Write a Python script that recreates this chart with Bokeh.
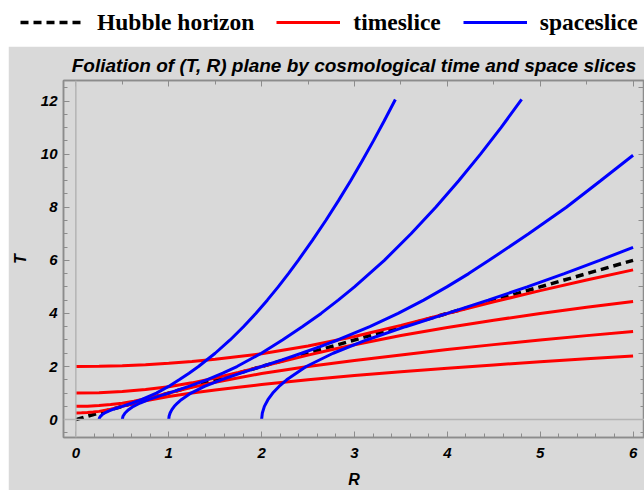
from bokeh.plotting import figure
from bokeh.models import (Range1d, LinearAxis, FixedTicker, Span, Legend, LegendItem,
                          Title, CustomJSTickFormatter)
from bokeh.embed import file_html
from bokeh.resources import INLINE

# ---------------- data ----------------
hubble_R = [0.0, 6.0]
hubble_T = [0.0, 6.0]

# time slices (red), labelled by T at R=0
ts025_R = [0.0, 0.0625, 0.125, 0.1875, 0.25, 0.375, 0.5, 0.625, 0.75, 1.0, 1.25, 1.5, 1.75, 2.0,
           2.5, 3.0, 3.5, 4.0, 4.5, 5.0, 5.5, 6.0]
ts025_T = [0.25, 0.254, 0.265, 0.284, 0.31, 0.391, 0.5, 0.6075, 0.705, 0.8675, 0.999, 1.112, 1.219, 1.3205,
           1.5, 1.661, 1.8045, 1.9375, 2.061, 2.1785, 2.289, 2.3945]

ts05_R = [0.0, 0.125, 0.25, 0.375, 0.5, 0.625, 0.75, 0.875, 1.0, 1.25, 1.5, 2.0, 2.5, 3.0,
          3.5, 4.0, 4.5, 5.0, 5.5, 6.0]
ts05_T = [0.5, 0.5075, 0.53, 0.5675, 0.62, 0.6925, 0.7825, 0.8875, 1.0, 1.215, 1.41, 1.735, 1.9975, 2.2245,
          2.4375, 2.641, 2.825, 3.0, 3.164, 3.3215]

ts1_R = [0.0, 0.25, 0.5, 0.75, 1.0, 1.25, 1.5, 1.75, 2.0, 2.25, 2.5, 2.75, 3.0, 3.5, 4.0, 4.5, 5.0, 5.5, 6.0]
ts1_T = [1.0, 1.015, 1.06, 1.135, 1.24, 1.385, 1.565, 1.775, 2.0, 2.22, 2.43, 2.63, 2.82, 3.165, 3.47,
         3.745, 3.995, 4.23, 4.449]

ts2_R = [0.0, 0.25, 0.5, 0.75, 1.0, 1.25, 1.5, 2.0, 2.5, 3.0, 3.5, 4.0, 4.5, 5.0, 5.5, 6.0]
ts2_T = [2.0, 2.008, 2.03, 2.068, 2.12, 2.188, 2.27, 2.48, 2.77, 3.13, 3.55, 4.0, 4.44, 4.86, 5.26, 5.64]

# space slices (blue), labelled by R at T=0
ss025_R = [0.25, 0.2538, 0.265, 0.2838, 0.31, 0.3463, 0.3913, 0.4438, 0.5, 0.6075, 0.705, 0.8675,
           0.9988, 1.1123, 1.2188, 1.3205, 1.5, 1.6608, 1.8045, 1.9375, 2.0613, 2.1785, 2.289,
           2.3945, 2.5468, 2.691, 2.8278, 2.9588, 3.0838, 3.204, 3.3195, 3.4403]
ss025_T = [0.0, 0.0625, 0.125, 0.1875, 0.25, 0.3125, 0.375, 0.4375, 0.5, 0.625, 0.75, 1.0,
           1.25, 1.5, 1.75, 2.0, 2.5, 3.0, 3.5, 4.0, 4.5, 5.0, 5.5,
           6.0, 6.75, 7.5, 8.25, 9.0, 9.75, 10.5, 11.25, 12.06]

ss05_R = [0.5, 0.5075, 0.53, 0.5675, 0.62, 0.6925, 0.7825, 0.8875, 1.0, 1.215, 1.41, 1.5825, 1.735,
          1.9975, 2.2245, 2.4375, 2.641, 2.825, 3.0, 3.3215, 3.609, 3.875, 4.1225, 4.357, 4.578, 4.8]
ss05_T = [0.0, 0.125, 0.25, 0.375, 0.5, 0.625, 0.75, 0.875, 1.0, 1.25, 1.5, 1.75, 2.0,
          2.5, 3.0, 3.5, 4.0, 4.5, 5.0, 6.0, 7.0, 8.0, 9.0, 10.0, 11.0, 12.06]

ss1_R = [1.0, 1.004, 1.015, 1.034, 1.06, 1.094, 1.135, 1.24, 1.385, 1.565, 1.775, 2.0, 2.22, 2.43,
         2.63, 2.82, 3.165, 3.47, 3.745, 3.995, 4.23, 4.449, 4.875, 5.282, 5.65, 6.0]
ss1_T = [0.0, 0.125, 0.25, 0.375, 0.5, 0.625, 0.75, 1.0, 1.25, 1.5, 1.75, 2.0, 2.25, 2.5,
         2.75, 3.0, 3.5, 4.0, 4.5, 5.0, 5.5, 6.0, 7.0, 8.0, 9.0, 9.96]

ss2_R = [2.0, 2.008, 2.03, 2.068, 2.12, 2.188, 2.27, 2.48, 2.77, 3.13, 3.55, 4.0, 4.44, 4.86, 5.26, 5.64, 6.0]
ss2_T = [0.0, 0.25, 0.5, 0.75, 1.0, 1.25, 1.5, 2.0, 2.5, 3.0, 3.5, 4.0, 4.5, 5.0, 5.5, 6.0, 6.49]

x_ticks = [0, 1, 2, 3, 4, 5, 6]
y_ticks = [0, 2, 4, 6, 8, 10, 12]
title_text = "Foliation of (T, R) plane by cosmological time and space slices"
legend_labels = ["Hubble horizon", "timeslice", "spaceslice"]

# ---------------- styling ----------------
GRAY = "#d9d9d9"
FRAME = "#8c8c8c"
RED = "#ff0000"
BLUE = "#0000ff"
DASH = "8 5"
SANS = "Liberation Sans"

# ---------------- legend strip ----------------
# ranges chosen so the data lines fall outside the strip; only the legend shows
lg = figure(width=636, height=46, output_backend="svg", toolbar_location=None,
            x_range=Range1d(100, 101), y_range=Range1d(100, 101),
            x_axis_location=None, y_axis_location=None,
            min_border=0, background_fill_color="white", border_fill_color="white",
            outline_line_color=None, margin=(0, 0, 0, 8))
lg.grid.visible = False
lr_h = lg.line(hubble_R, hubble_T, line_color="black", line_width=3.5, line_dash=DASH)
lr_t = lg.line(ts1_R, ts1_T, line_color=RED, line_width=3)
lr_s = lg.line(ss1_R, ss1_T, line_color=BLUE, line_width=3)
legend = Legend(items=[LegendItem(label=legend_labels[0], renderers=[lr_h]),
                       LegendItem(label=legend_labels[1], renderers=[lr_t]),
                       LegendItem(label=legend_labels[2], renderers=[lr_s])],
                orientation="horizontal", location=(12, 9),
                label_text_font="Liberation Serif", label_text_font_style="bold",
                label_text_font_size="23.5px", label_text_color="black",
                glyph_width=64, glyph_height=30, label_height=30, label_standoff=13,
                spacing=22, padding=0, margin=0, border_line_color=None,
                background_fill_alpha=0)
lg.add_layout(legend)

# ---------------- main plot ----------------
p = figure(width=636, height=444, output_backend="svg", toolbar_location=None,
           x_range=Range1d(-0.133, 6.123), y_range=Range1d(-0.674, 12.775),
           min_border_left=55, min_border_right=0, min_border_top=34, min_border_bottom=51,
           background_fill_color=GRAY, border_fill_color=GRAY,
           outline_line_color=FRAME, outline_line_width=1.5, margin=(0, 0, 0, 8))
p.grid.visible = False

p.title = Title(text=title_text, align="center", text_font=SANS,
                text_font_style="bold italic", text_font_size="19px",
                text_color="black", standoff=10)

def style_axis(ax, major, minor, labels=True):
    ax.ticker = FixedTicker(ticks=major, minor_ticks=minor)
    ax.axis_line_color = FRAME
    ax.axis_line_width = 1.5
    ax.major_tick_line_color = FRAME
    ax.minor_tick_line_color = FRAME
    ax.major_tick_in = 6
    ax.major_tick_out = 0
    ax.minor_tick_in = 4
    ax.minor_tick_out = 0
    ax.major_label_text_font = SANS
    ax.major_label_text_font_style = "bold italic"
    ax.major_label_text_font_size = "15px"
    ax.major_label_text_color = "black"
    ax.axis_label_text_font = SANS
    ax.axis_label_text_font_style = "bold italic"
    ax.axis_label_text_font_size = "16px"
    ax.axis_label_text_color = "black"
    if not labels:
        ax.formatter = CustomJSTickFormatter(code="return ''")
        ax.major_label_standoff = 0
        ax.major_label_text_font_size = "0px"
        ax.axis_label = None
        ax.axis_label_standoff = 0

x_minor = [round(0.2 * i, 1) for i in range(0, 31)]
y_minor = [0.5 * i for i in range(-1, 26)]

xa = p.xaxis[0]
style_axis(xa, x_ticks, x_minor)
xa.axis_label = "R"
xa.major_label_standoff = 10
xa.axis_label_standoff = 10

ya = p.yaxis[0]
style_axis(ya, y_ticks, y_minor)
ya.axis_label = "T"
ya.major_label_standoff = 6
ya.axis_label_standoff = 9

top = LinearAxis()
style_axis(top, x_ticks, [0.5 * i for i in range(0, 13)], labels=False)
p.add_layout(top, "above")
right = LinearAxis()
style_axis(right, [0, 2.5, 5, 7.5, 10, 12.5], y_minor, labels=False)
p.add_layout(right, "right")

p.add_layout(Span(location=0, dimension="height", line_color="#b4b4b4", line_width=1.5))
p.add_layout(Span(location=0, dimension="width", line_color="#b4b4b4", line_width=1.5))

p.line(hubble_R, hubble_T, line_color="black", line_width=3.5, line_dash=DASH)
for R, T in [(ts025_R, ts025_T), (ts05_R, ts05_T), (ts1_R, ts1_T), (ts2_R, ts2_T)]:
    p.line(R, T, line_color=RED, line_width=3)
for R, T in [(ss025_R, ss025_T), (ss05_R, ss05_T), (ss1_R, ss1_T), (ss2_R, ss2_T)]:
    p.line(R, T, line_color=BLUE, line_width=3)

open("out.html", "w").write(file_html([lg, p], INLINE))
